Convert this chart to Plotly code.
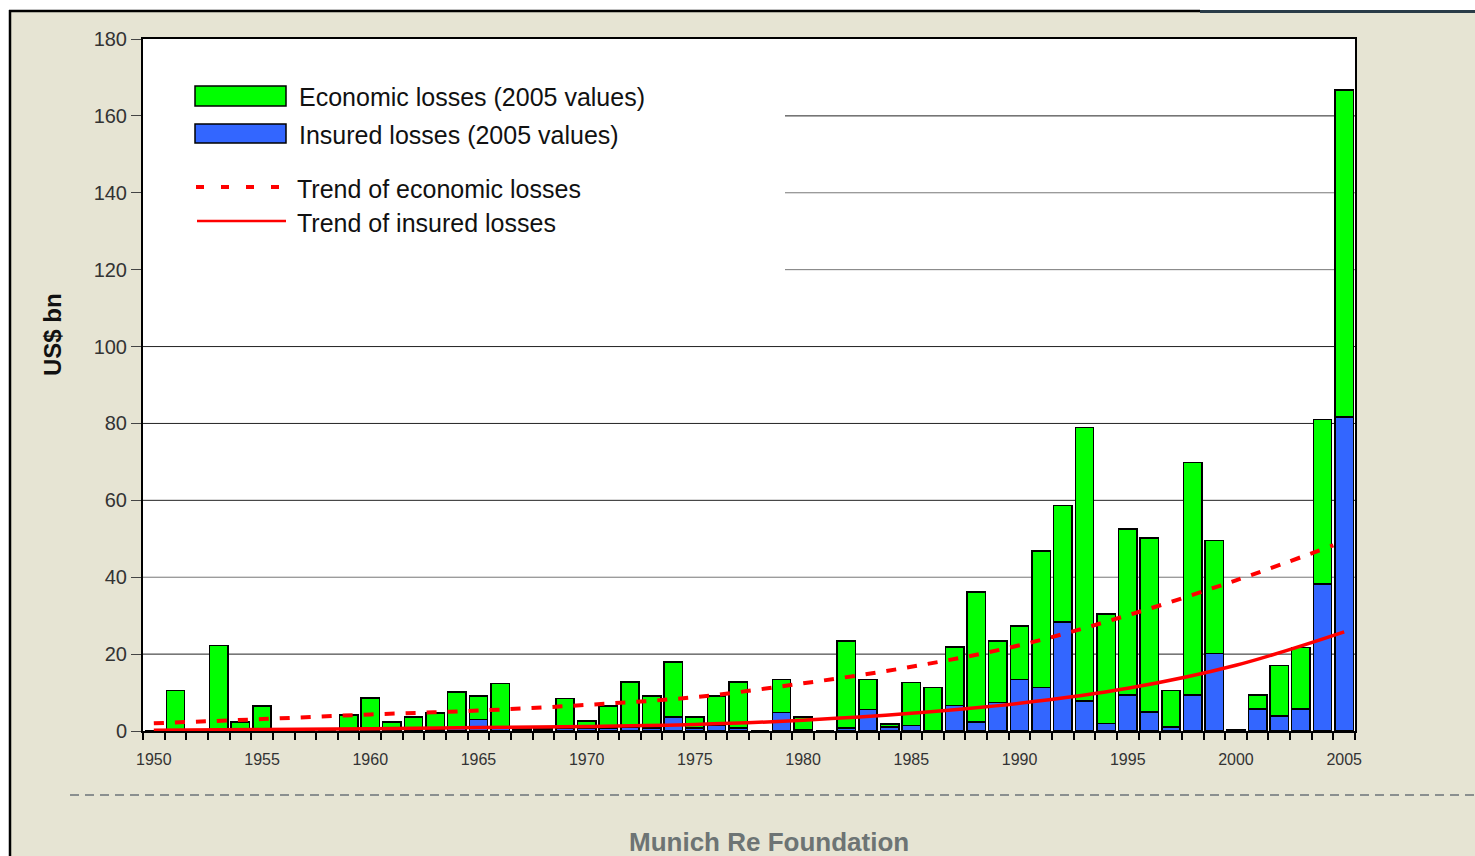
import plotly.graph_objects as go

# ---------------- data ----------------
years = list(range(1950, 2006))

economic = [
    0, 10.6, 0, 22.3, 2.4, 6.5, 0, 0, 0, 4.2,          # 1950-1959
    8.6, 2.4, 3.7, 4.7, 10.2, 9.1, 12.4, 0.7, 0.5, 8.5,  # 1960-1969
    2.6, 6.5, 12.8, 9.1, 17.9, 3.7, 9.1, 12.8, 0, 13.4,  # 1970-1979
    3.7, 0, 23.4, 13.4, 1.8, 12.6, 11.3, 21.9, 36.2, 23.4,  # 1980-1989
    27.3, 46.8, 58.7, 79.0, 30.4, 52.6, 50.2, 10.5, 69.8, 49.6,  # 1990-1999
    0.4, 9.4, 17.0, 21.7, 81.0, 166.7,                   # 2000-2005
]

insured = [
    0, 0.2, 0, 0.3, 0.3, 0.3, 0, 0, 0, 0.3,
    0.5, 0.3, 0.3, 0.5, 0.8, 3.0, 0.6, 0.3, 0.2, 0.8,
    0.8, 0.8, 1.1, 0.8, 3.7, 0.8, 1.5, 0.8, 0, 4.8,
    0.4, 0, 0.8, 5.6, 1.0, 1.4, 0.1, 6.6, 2.4, 7.4,
    13.4, 11.3, 28.3, 7.8, 2.0, 9.4, 5.0, 1.1, 9.4, 20.2,
    0.2, 5.7, 3.9, 5.7, 38.2, 81.7,
]

trend_econ_years = [1950, 1955, 1960, 1965, 1970, 1975, 1980, 1985, 1990, 1995, 2000, 2004.5]
trend_econ = [2.0, 3.1, 4.3, 5.3, 6.8, 8.8, 12.4, 16.7, 22.3, 30.1, 39.2, 48.3]

trend_ins_years = [1950, 1955, 1960, 1965, 1970, 1975, 1980, 1985, 1990, 1995, 2000, 2005]
trend_ins = [0.2, 0.4, 0.6, 0.9, 1.2, 1.7, 2.8, 4.6, 7.2, 11.1, 17.1, 25.8]

x_tick_years = [1950, 1955, 1960, 1965, 1970, 1975, 1980, 1985, 1990, 1995, 2000, 2005]
y_tick_vals = [0, 20, 40, 60, 80, 100, 120, 140, 160, 180]

legend_labels = [
    "Economic losses (2005 values)",
    "Insured losses (2005 values)",
    "Trend of economic losses",
    "Trend of insured losses",
]
y_title = "US$ bn"
footer = "Munich Re Foundation"

# ---------------- styling ----------------
GREEN = "#00ff00"
BLUE = "#3366ff"
RED = "#ff0000"
BG = "#e6e4d3"
FONT = "Liberation Sans, Arial, sans-serif"
GRID_COLORS = {20: "#222222", 40: "#777777", 60: "#222222", 80: "#222222",
               100: "#222222", 120: "#777777", 140: "#777777", 160: "#222222"}

W, H = 1475, 856
L, R, T, B = 143, 120, 39, 125
PW, PH = W - L - R, H - T - B


def px(x):
    return (x - L) / PW


def py(y):
    return (H - B - y) / PH


uninsured = [e - i for e, i in zip(economic, insured)]

fig = go.Figure()
fig.add_trace(go.Bar(x=years, y=insured, name=legend_labels[1],
                     marker=dict(color=BLUE, line=dict(color="black", width=1.5))))
fig.add_trace(go.Bar(x=years, y=uninsured, name=legend_labels[0],
                     marker=dict(color=GREEN, line=dict(color="black", width=1.5))))
fig.add_trace(go.Scatter(x=trend_econ_years, y=trend_econ, mode="lines", name=legend_labels[2],
                         line=dict(color=RED, width=4, dash="10px,11px", shape="spline")))
fig.add_trace(go.Scatter(x=trend_ins_years, y=trend_ins, mode="lines", name=legend_labels[3],
                         line=dict(color=RED, width=3.5, shape="spline")))

shapes = []
# gridlines (interrupted by the legend box at the upper left)
legend_box_bottom = 112
for v in y_tick_vals:
    if v in (0, 180):
        continue
    x0 = px(785) if v > legend_box_bottom else 0
    shapes.append(dict(type="line", xref="paper", yref="y", x0=x0, x1=1, y0=v, y1=v,
                       line=dict(color=GRID_COLORS[v], width=1), layer="below"))
# legend swatches
shapes.append(dict(type="rect", xref="paper", yref="paper", x0=px(195), x1=px(286), y0=py(106), y1=py(86),
                   fillcolor=GREEN, line=dict(color="black", width=1.5), layer="above"))
shapes.append(dict(type="rect", xref="paper", yref="paper", x0=px(195), x1=px(286), y0=py(143), y1=py(124),
                   fillcolor=BLUE, line=dict(color="black", width=1.5), layer="above"))
shapes.append(dict(type="line", xref="paper", yref="paper", x0=px(196), x1=px(288), y0=py(187), y1=py(187),
                   line=dict(color=RED, width=4, dash="8px,17px"), layer="above"))
shapes.append(dict(type="line", xref="paper", yref="paper", x0=px(197), x1=px(286), y0=py(221), y1=py(221),
                   line=dict(color=RED, width=2.5), layer="above"))
# page frame
shapes.append(dict(type="rect", xref="paper", yref="paper", x0=px(-5), x1=px(W + 5), y0=py(10), y1=py(-5),
                   fillcolor="white", line=dict(width=0), layer="above"))
shapes.append(dict(type="rect", xref="paper", yref="paper", x0=px(-5), x1=px(9), y0=py(H + 5), y1=py(-5),
                   fillcolor="white", line=dict(width=0), layer="above"))
shapes.append(dict(type="line", xref="paper", yref="paper", x0=px(9), x1=px(1200), y0=py(11), y1=py(11),
                   line=dict(color="black", width=2.5), layer="above"))
shapes.append(dict(type="line", xref="paper", yref="paper", x0=px(1200), x1=px(W + 5), y0=py(11.5), y1=py(11.5),
                   line=dict(color="#2a3c48", width=3), layer="above"))
shapes.append(dict(type="line", xref="paper", yref="paper", x0=px(10), x1=px(10), y0=py(10), y1=py(H + 5),
                   line=dict(color="black", width=2.5), layer="above"))
# dashed separator
shapes.append(dict(type="line", xref="paper", yref="paper", x0=px(70), x1=px(W + 5), y0=py(795), y1=py(795),
                   line=dict(color="#8a8f8f", width=2, dash="9px,6px"), layer="above"))

annotations = []
leg_text_pos = [(297, 97), (297, 135), (295, 189), (295, 223)]
for (lx, ly), txt in zip(leg_text_pos, legend_labels):
    annotations.append(dict(xref="paper", yref="paper", x=px(lx), y=py(ly), xanchor="left", yanchor="middle",
                            text=txt, showarrow=False, font=dict(family=FONT, size=25, color="#111111")))
annotations.append(dict(xref="paper", yref="paper", x=px(52), y=py(334), xanchor="center", yanchor="middle",
                        text="<b>" + y_title + "</b>", textangle=-90, showarrow=False,
                        font=dict(family=FONT, size=24, color="#111111")))
annotations.append(dict(xref="paper", yref="paper", x=px(769), y=py(842), xanchor="center", yanchor="middle",
                        text="<b>" + footer + "</b>", showarrow=False,
                        font=dict(family=FONT, size=26, color="#6d7474")))

fig.update_layout(
    width=W, height=H,
    margin=dict(l=L, r=R, t=T, b=B),
    paper_bgcolor=BG, plot_bgcolor="white",
    barmode="stack", bargap=0.15,
    showlegend=False,
    font=dict(family=FONT, color="#333333"),
    shapes=shapes, annotations=annotations,
    xaxis=dict(range=[1949.5, 2005.5], tickvals=x_tick_years, ticktext=[str(v) for v in x_tick_years],
               ticks="outside", ticklen=13, tickcolor="rgba(0,0,0,0)",
               tickfont=dict(family=FONT, size=16, color="#333333"),
               showgrid=False, zeroline=False,
               showline=True, linecolor="black", linewidth=2, mirror=True,
               minor=dict(tick0=1949.5, dtick=1, ticks="outside", ticklen=7, tickcolor="black", tickwidth=1.5,
                          showgrid=False)),
    yaxis=dict(range=[0, 180], tickvals=y_tick_vals, ticks="outside", ticklen=10, tickcolor="#444444",
               tickfont=dict(family=FONT, size=20, color="#333333"),
               showgrid=False, zeroline=False,
               showline=True, linecolor="black", linewidth=2, mirror=True),
)

fig.write_html("out.html", config={"displayModeBar": False},
               post_script="document.body.style.margin='0';document.body.style.overflow='hidden';")
